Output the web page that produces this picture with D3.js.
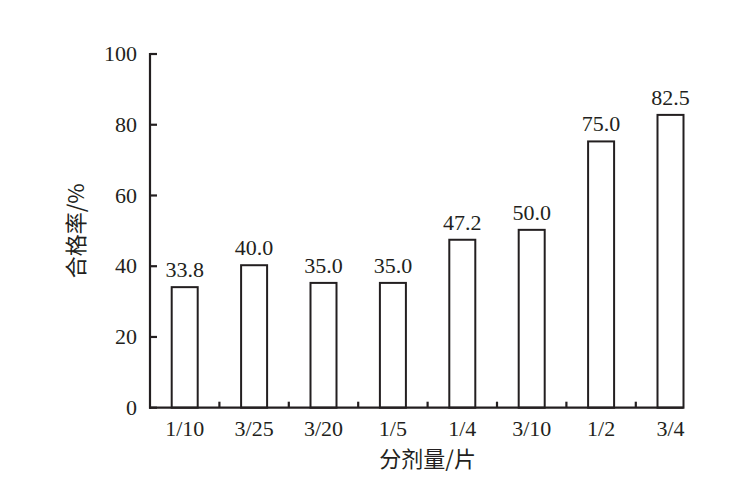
<!DOCTYPE html>
<html><head><meta charset="utf-8">
<script src="https://cdn.jsdelivr.net/npm/d3@7"></script>
<style>body{margin:0;background:#fff;}svg{display:block;}
.sf{font-family:"Liberation Serif","DejaVu Serif",serif;}
.cj{font-family:"Noto Sans CJK SC",sans-serif;}
</style>
</head><body>
<svg id="c" width="733" height="483"></svg>
<script>
const categories = ["1/10","3/25","3/20","1/5","1/4","3/10","1/2","3/4"];
const values = [33.8,40.0,35.0,35.0,47.2,50.0,75.0,82.5];
const valueLabels = ["33.8","40.0","35.0","35.0","47.2","50.0","75.0","82.5"];
const yTicks = [0,20,40,60,80,100];
const xTitle = "分剂量/片";
const yTitle = "合格率/%";

(function(){
const ink = "#231f20";
const svg = d3.select("#c");
const left = 150, bandW = 69.4, plotTop = 54, bottom = 407.7;
const x = d3.scaleBand().domain(categories).range([left, left + bandW*categories.length]).paddingInner(0).paddingOuter(0);
const y = d3.scaleLinear().domain([0,100]).range([bottom, plotTop]);
const barW = 26;
const axisEnd = x(categories[categories.length-1]) + x.bandwidth()/2 + barW/2;

// bars
svg.append("g").selectAll("rect").data(values).join("rect")
  .attr("x",(d,i)=>x(categories[i]) + x.bandwidth()/2 - barW/2)
  .attr("y",d=>y(d)-1)
  .attr("width",barW)
  .attr("height",d=>bottom - y(d)+1)
  .attr("fill","#fff").attr("stroke",ink).attr("stroke-width",2);

// value labels
svg.append("g").selectAll("text").data(values).join("text")
  .attr("class","sf")
  .attr("x",(d,i)=>x(categories[i]) + x.bandwidth()/2)
  .attr("y",d=>y(d)-11)
  .attr("text-anchor","middle")
  .attr("font-size",22).attr("fill",ink)
  .text((d,i)=>valueLabels[i]);

// y axis
const ya = svg.append("g");
ya.append("line").attr("x1",left).attr("x2",left).attr("y1",y(100)-1).attr("y2",bottom+1)
  .attr("stroke",ink).attr("stroke-width",2.2);
ya.selectAll("line.t").data(yTicks).join("line").attr("class","t")
  .attr("x1",left).attr("x2",left+7).attr("y1",d=>y(d)).attr("y2",d=>y(d))
  .attr("stroke",ink).attr("stroke-width",2.2);
ya.selectAll("text").data(yTicks).join("text")
  .attr("class","sf")
  .attr("x",left-13).attr("y",d=>y(d)).attr("dy","0.33em")
  .attr("text-anchor","end").attr("font-size",22).attr("fill",ink)
  .text(d=>d);

// x axis
const xa = svg.append("g");
xa.append("line").attr("x1",left-1).attr("x2",axisEnd).attr("y1",bottom).attr("y2",bottom)
  .attr("stroke",ink).attr("stroke-width",2.2);
const bounds = categories.slice(1).map(c=>x(c));
xa.selectAll("line.t").data(bounds).join("line").attr("class","t")
  .attr("x1",d=>d).attr("x2",d=>d).attr("y1",bottom).attr("y2",bottom-6)
  .attr("stroke",ink).attr("stroke-width",2.2);
xa.selectAll("text").data(categories).join("text")
  .attr("class","sf")
  .attr("x",d=>x(d)+x.bandwidth()/2).attr("y",bottom+28)
  .attr("text-anchor","middle").attr("font-size",22).attr("fill",ink)
  .text(d=>d);

// titles
svg.append("text").attr("class","cj").attr("x",left + bandW*categories.length/2).attr("y",467)
  .attr("text-anchor","middle").attr("font-size",22).attr("fill",ink)
  .text(xTitle);
svg.append("text").attr("class","cj").attr("transform",`translate(84,${(y(100)+bottom)/2}) rotate(-90)`)
  .attr("text-anchor","middle").attr("font-size",22).attr("fill",ink)
  .text(yTitle);
})();
</script>
</body></html>
